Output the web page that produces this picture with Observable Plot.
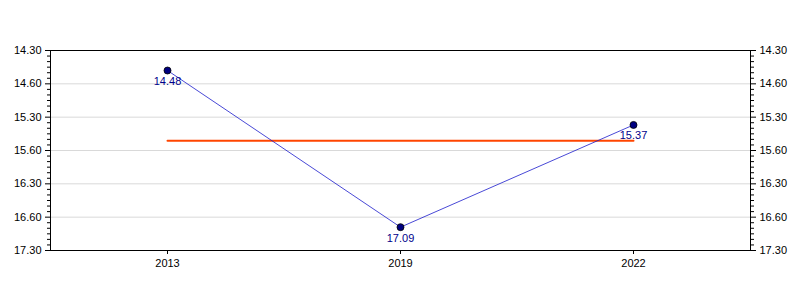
<!DOCTYPE html>
<html>
<head>
<meta charset="utf-8">
<script src="https://cdn.jsdelivr.net/npm/d3@7"></script>
<script src="https://cdn.jsdelivr.net/npm/@observablehq/plot@0.6"></script>
<style>
  html, body { margin: 0; padding: 0; background: #fff; }
  #chart svg { font-family: "Liberation Sans", Arial, sans-serif; }
</style>
</head>
<body>
<div id="chart"></div>
<script>
// Data (times written as minutes.seconds)
const years = ["2013", "2019", "2022"];
const timeLabels = ["14.48", "17.09", "15.37"];

// Y axis ticks (minutes) and their labels as shown in the chart
const majorTicks = [14.5, 15.0, 15.5, 16.0, 16.5, 17.0, 17.5];
const tickLabels = ["14.30", "14.60", "15.30", "15.60", "16.30", "16.60", "17.30"];

const toMinutes = s => { const [m, sec] = s.split(".").map(Number); return m + sec / 60; };
const data = years.map((y, i) => ({year: y, label: timeLabels[i], value: toMinutes(timeLabels[i])}));
const mean = d3.mean(data, d => d.value);
const meanLine = [{year: years[0], value: mean}, {year: years[years.length - 1], value: mean}];

const labelOf = new Map(majorTicks.map((t, i) => [t, tickLabels[i]]));
const minorTicks = d3.range(0, 37).filter(i => i % 6 !== 0).map(i => 14.5 + i / 12);

const chart = Plot.plot({
  width: 800,
  height: 300,
  marginTop: 50,
  marginBottom: 50,
  marginLeft: 50,
  marginRight: 50,
  style: {fontSize: "11px", fontFamily: "Liberation Sans, Arial, sans-serif", background: "#fff", color: "#000"},
  x: {type: "point", domain: years, padding: 0.5},
  y: {domain: [14.5, 17.5], reverse: true},
  marks: [
    Plot.gridY(majorTicks.slice(1, -1), {stroke: "#d9d9d9", strokeOpacity: 1}),
    Plot.frame({stroke: "#000", strokeWidth: 1}),
    Plot.axisY({anchor: "left", ticks: majorTicks, tickFormat: d => labelOf.get(d), tickSize: 5, tickPadding: 4, label: null}),
    Plot.axisY({anchor: "left", ticks: minorTicks, tickFormat: () => "", tickSize: 3, label: null}),
    Plot.axisY({anchor: "right", ticks: majorTicks, tickFormat: d => labelOf.get(d), tickSize: 5, tickPadding: 4, label: null}),
    Plot.axisY({anchor: "right", ticks: minorTicks, tickFormat: () => "", tickSize: 3, label: null}),
    Plot.axisX({anchor: "bottom", tickSize: 4, tickPadding: 5, label: null}),
    Plot.line(meanLine, {x: "year", y: "value", stroke: "#ff4500", strokeWidth: 2}),
    Plot.line(data, {x: "year", y: "value", stroke: "#1a1acc", strokeWidth: 0.8}),
    Plot.dot(data, {x: "year", y: "value", r: 3.5, fill: "#000080", stroke: "#000", strokeWidth: 0.8}),
    Plot.text(data, {x: "year", y: "value", text: "label", dy: 11, fill: "#00008b", fontSize: 11})
  ]
});
document.getElementById("chart").appendChild(chart);
</script>
</body>
</html>
